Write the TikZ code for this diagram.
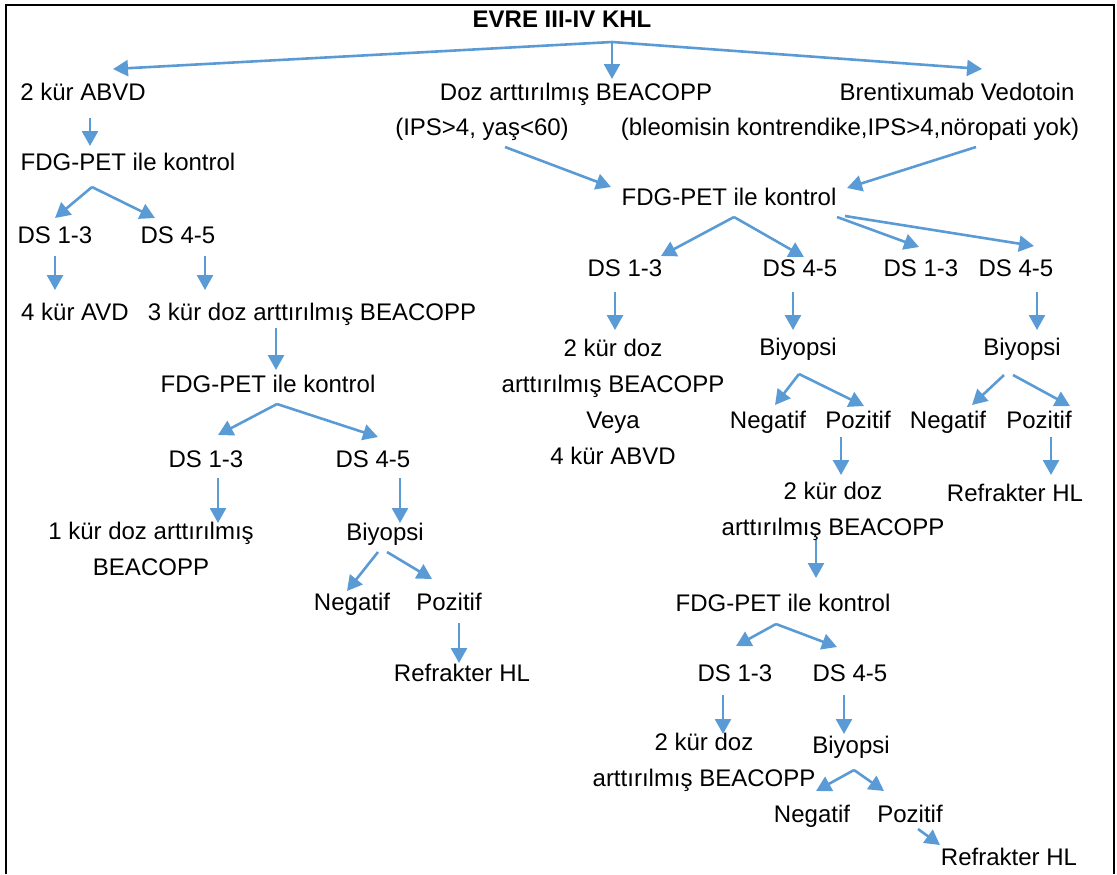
\documentclass[tikz,border=0pt]{standalone}
\usepackage{fontspec}
\setmainfont{Liberation Sans}
\usepackage{tikz}
\usetikzlibrary{arrows.meta, calc}
\definecolor{flowblue}{RGB}{91,155,213}

\begin{document}
\begin{tikzpicture}[x=0.5pt, y=-0.5pt,
    lbl/.style={font=\fontsize{12}{18}\selectfont, inner sep=0pt,
                text height=9.5pt, text depth=1.5pt},
    lbltwo/.style={font=\fontsize{12}{18}\selectfont, inner sep=0pt, align=center},
    arr/.style={-{Triangle[length=7.5pt, width=8pt]}, line width=1.3pt, flowblue}]
    \useasboundingbox (0,0) rectangle (1117,874);

    % Frame (open at the bottom)
    \draw[line width=1pt] (6,874) -- (6,5) -- (1114,5) -- (1114,874);

    % Head and the three first-line choices
    \node[lbl, font=\fontsize{12}{18}\selectfont\bfseries] (evre) at (562,19) {EVRE III-IV KHL};
    \node[lbl] (abvd) at (83,92) {2 kür ABVD};
    \node[lbl] (dozb) at (576,92) {Doz arttırılmış BEACOPP};
    \node[lbl] (bv) at (957,92) {Brentixumab Vedotoin};
    \node[lbl] (ips) at (482,127) {(IPS>4, yaş<60)};
    \node[lbl] (bvc) at (850,127) {(bleomisin kontrendike,IPS>4,nöropati yok)};

    \coordinate (f0) at ($(evre)+(50,23)$);
    \draw[arr] (f0) -- ($(abvd)+(30,-23)$);
    \draw[arr] (f0) -- ($(dozb)+(36,-13)$);
    \draw[arr] (f0) -- ($(bv)+(25,-23)$);

    % Left branch: 2 x ABVD
    \node[lbl] (pet1) at (128,162) {FDG-PET ile kontrol};
    \node[lbl] (ds13a) at (55,235) {DS 1-3};
    \node[lbl] (ds45a) at (178,235) {DS 4-5};
    \node[lbl] (avd) at (75,312) {4 kür AVD};
    \node[lbl] (kur3) at (312,312) {3 kür doz arttırılmış BEACOPP};
    \node[lbl] (pet2) at (268,384) {FDG-PET ile kontrol};
    \node[lbl] (ds13b) at (206,459) {DS 1-3};
    \node[lbl] (ds45b) at (373,459) {DS 4-5};
    \node[lbltwo] (kur1) at (151,549) {1 kür doz arttırılmış\\BEACOPP};
    \node[lbl] (biy1) at (385,532) {Biyopsi};
    \node[lbl] (neg1) at (352,602) {Negatif};
    \node[lbl] (poz1) at (449,602) {Pozitif};
    \node[lbl] (ref1) at (462,673) {Refrakter HL};

    \coordinate (f1) at ($(pet1)+(-36,25)$);
    \coordinate (f2) at ($(pet2)+(9,20)$);
    \draw[arr] ($(abvd)+(7,26)$) -- ($(pet1)+(-38,-16)$);
    \draw[arr] (f1) -- ($(ds13a)+(0,-17)$);
    \draw[arr] (f1) -- ($(ds45a)+(-23,-17)$);
    \draw[arr] ($(ds13a)+(0,21)$) -- ($(avd)+(-20,-22)$);
    \draw[arr] ($(ds45a)+(27,21)$) -- ($(kur3)+(-107,-22)$);
    \draw[arr] ($(kur3)+(-36,16)$) -- ($(pet2)+(8,-14)$);
    \draw[arr] (f2) -- ($(ds13b)+(12,-24)$);
    \draw[arr] (f2) -- ($(ds45b)+(5,-22)$);
    \draw[arr] ($(ds13b)+(12,19)$) -- ($(kur1)+(67,-26)$);
    \draw[arr] ($(ds45b)+(27,19)$) -- ($(biy1)+(15,-9)$);
    \draw[arr] ($(biy1)+(-7,20)$) -- ($(neg1)+(-5,-11)$);
    \draw[arr] ($(biy1)+(2,20)$) -- ($(poz1)+(-17,-23)$);
    \draw[arr] ($(poz1)+(10,21)$) -- ($(ref1)+(-3,-10)$);

    % Middle and right branches: escalated BEACOPP / BV
    \node[lbl] (pet3) at (729,197) {FDG-PET ile kontrol};
    \node[lbl] (ds13c) at (625,268) {DS 1-3};
    \node[lbl] (ds45c) at (800,268) {DS 4-5};
    \node[lbl] (ds13d) at (921,268) {DS 1-3};
    \node[lbl] (ds45d) at (1016,268) {DS 4-5};
    \node[lbltwo] (kur2a) at (613,402) {2 kür doz\\arttırılmış BEACOPP\\Veya\\4 kür ABVD};
    \node[lbl] (biy2) at (798,347) {Biyopsi};
    \node[lbl] (biy3) at (1022,347) {Biyopsi};
    \node[lbl] (neg2) at (768,420) {Negatif};
    \node[lbl] (poz2) at (858,420) {Pozitif};
    \node[lbl] (neg3) at (948,420) {Negatif};
    \node[lbl] (poz3) at (1039,420) {Pozitif};
    \node[lbltwo] (kur2b) at (833,511) {2 kür doz\\arttırılmış BEACOPP};
    \node[lbl] (ref3) at (1015,493) {Refrakter HL};
    \node[lbl] (pet4) at (783,603) {FDG-PET ile kontrol};
    \node[lbl] (ds13e) at (735,673) {DS 1-3};
    \node[lbl] (ds45e) at (850,673) {DS 4-5};
    \node[lbltwo] (kur2c) at (704,762) {2 kür doz\\arttırılmış BEACOPP};
    \node[lbl] (biy4) at (851,745) {Biyopsi};
    \node[lbl] (neg4) at (812,814) {Negatif};
    \node[lbl] (poz4) at (910,814) {Pozitif};
    \node[lbl] (ref4) at (1009,857) {Refrakter HL};

    \coordinate (f3) at ($(pet3)+(5,20)$);
    \coordinate (f4) at ($(biy2)+(1,27)$);
    \coordinate (f5) at ($(pet4)+(-7,21)$);
    \coordinate (f6) at ($(biy4)+(3,25)$);
    \draw[arr] ($(ips)+(23,20)$) -- ($(pet3)+(-118,-10)$);
    \draw[arr] ($(bvc)+(126,20)$) -- ($(pet3)+(118,-9)$);
    \draw[arr] (f3) -- ($(ds13c)+(36,-12)$);
    \draw[arr] (f3) -- ($(ds45c)+(4,-11)$);
    \draw[arr] ($(pet3)+(108,20)$) -- ($(ds13d)+(-2,-21)$);
    \draw[arr] ($(pet3)+(116,19)$) -- ($(ds45d)+(18,-22)$);
    \draw[arr] ($(ds13c)+(-10,24)$) -- ($(kur2a)+(2,-72)$);
    \draw[arr] ($(ds45c)+(-7,24)$) -- ($(biy2)+(-5,-17)$);
    \draw[arr] ($(ds45d)+(21,24)$) -- ($(biy3)+(15,-17)$);
    \draw[arr] (f4) -- ($(neg2)+(7,-15)$);
    \draw[arr] (f4) -- ($(poz2)+(6,-14)$);
    \draw[arr] ($(biy3)+(-18,28)$) -- ($(neg3)+(24,-15)$);
    \draw[arr] ($(biy3)+(-9,28)$) -- ($(poz3)+(31,-14)$);
    \draw[arr] ($(poz2)+(-17,17)$) -- ($(kur2b)+(8,-36)$);
    \draw[arr] ($(poz3)+(12,17)$) -- ($(ref3)+(36,-18)$);
    \draw[arr] ($(kur2b)+(-17,29)$) -- ($(pet4)+(33,-25)$);
    \draw[arr] (f5) -- ($(ds13e)+(1,-27)$);
    \draw[arr] (f5) -- ($(ds45e)+(-13,-26)$);
    \draw[arr] ($(ds13e)+(-12,22)$) -- ($(kur2c)+(19,-28)$);
    \draw[arr] ($(ds45e)+(-6,22)$) -- ($(biy4)+(-7,-11)$);
    \draw[arr] (f6) -- ($(neg4)+(4,-23)$);
    \draw[arr] (f6) -- ($(poz4)+(-26,-23)$);
    \draw[arr] ($(poz4)+(8,15)$) -- ($(ref4)+(-69,-12)$);
\end{tikzpicture}
\end{document}
